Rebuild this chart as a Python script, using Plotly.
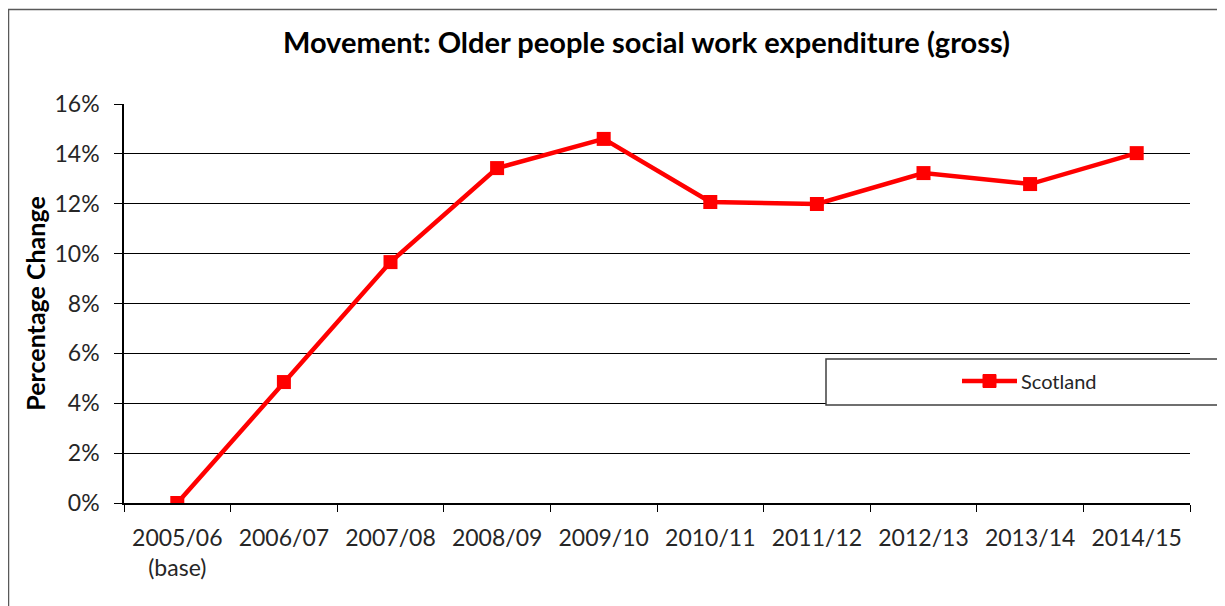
import plotly.graph_objects as go

years = ["2005/06", "2006/07", "2007/08", "2008/09", "2009/10",
         "2010/11", "2011/12", "2012/13", "2013/14", "2014/15"]
tick_labels = ["2005/06<br>(base)"] + years[1:]
scotland = [0.0, 4.85, 9.66, 13.43, 14.6, 12.07, 11.99, 13.23, 12.79, 14.03]

FONT = "Lato, Calibri, sans-serif"
TEXT = "#262626"
RED = "#FF0000"

# page body adds an 8px offset, so work in figure pixels = screen - 8
W, H = 1217, 598
L, T, R, B = 116, 96, 35, 103
PW, PH = W - L - R, H - T - B


def px_x(x):
    return (x - 8 - L) / PW


def px_y(y):
    return (H - B - (y - 8)) / PH


fig = go.Figure(
    go.Scatter(
        x=years,
        y=scotland,
        mode="lines+markers",
        name="Scotland",
        line=dict(color=RED, width=4.5),
        marker=dict(symbol="square", size=14, color=RED),
        showlegend=False,
    )
)

# outer chart frame
fig.add_shape(type="rect", xref="paper", yref="paper",
              x0=px_x(8.5), x1=1.3, y0=-0.6, y1=px_y(9.5),
              line=dict(color="#595959", width=1.5), layer="below")
# legend box
fig.add_shape(type="rect", xref="paper", yref="paper",
              x0=px_x(826), x1=1.3, y0=px_y(405), y1=px_y(359),
              line=dict(color="#404040", width=1.5), fillcolor="white")
fig.add_shape(type="line", xref="paper", yref="paper",
              x0=px_x(962), x1=px_x(1017), y0=px_y(381), y1=px_y(381),
              line=dict(color=RED, width=4.5))
fig.add_shape(type="rect", xref="paper", yref="paper",
              x0=px_x(983), x1=px_x(996), y0=px_y(387.5), y1=px_y(374.5),
              line=dict(color=RED, width=1), fillcolor=RED)
fig.add_annotation(text="Scotland", xref="paper", yref="paper",
                   x=px_x(1019), y=px_y(381), xanchor="left", yanchor="middle",
                   showarrow=False, font=dict(size=20, color=TEXT))

fig.update_layout(
    width=W,
    height=H,
    margin=dict(l=L, r=R, t=T, b=B),
    plot_bgcolor="white",
    paper_bgcolor="white",
    font=dict(family=FONT, size=23, color=TEXT),
    title=dict(
        text="<b>Movement: Older people social work expenditure (gross)</b>",
        x=px_x(646.5), xref="paper", xanchor="center",
        y=1 - 35 / H, yanchor="middle",
        font=dict(size=29, color="#000000"),
    ),
    showlegend=False,
    xaxis=dict(
        type="category",
        tickmode="array", tickvals=years, ticktext=tick_labels,
        tickson="boundaries", ticks="outside", ticklen=7,
        tickcolor="#000000",
        ticklabelstandoff=14,
        showline=True, linecolor="#000000", linewidth=1.5,
        showgrid=False, range=[-0.5, 9.5],
    ),
    yaxis=dict(
        range=[0, 16], dtick=2, ticksuffix="%",
        ticks="outside", ticklen=8, tickcolor="#000000",
        ticklabelstandoff=10,
        showline=True, linecolor="#000000", linewidth=1.5,
        showgrid=True, gridcolor="#000000", gridwidth=1,
        zeroline=False,
        title=dict(text="<b>Percentage Change</b>", standoff=2,
                   font=dict(size=25, color="#000000")),
    ),
)

fig.write_html("out.html")
